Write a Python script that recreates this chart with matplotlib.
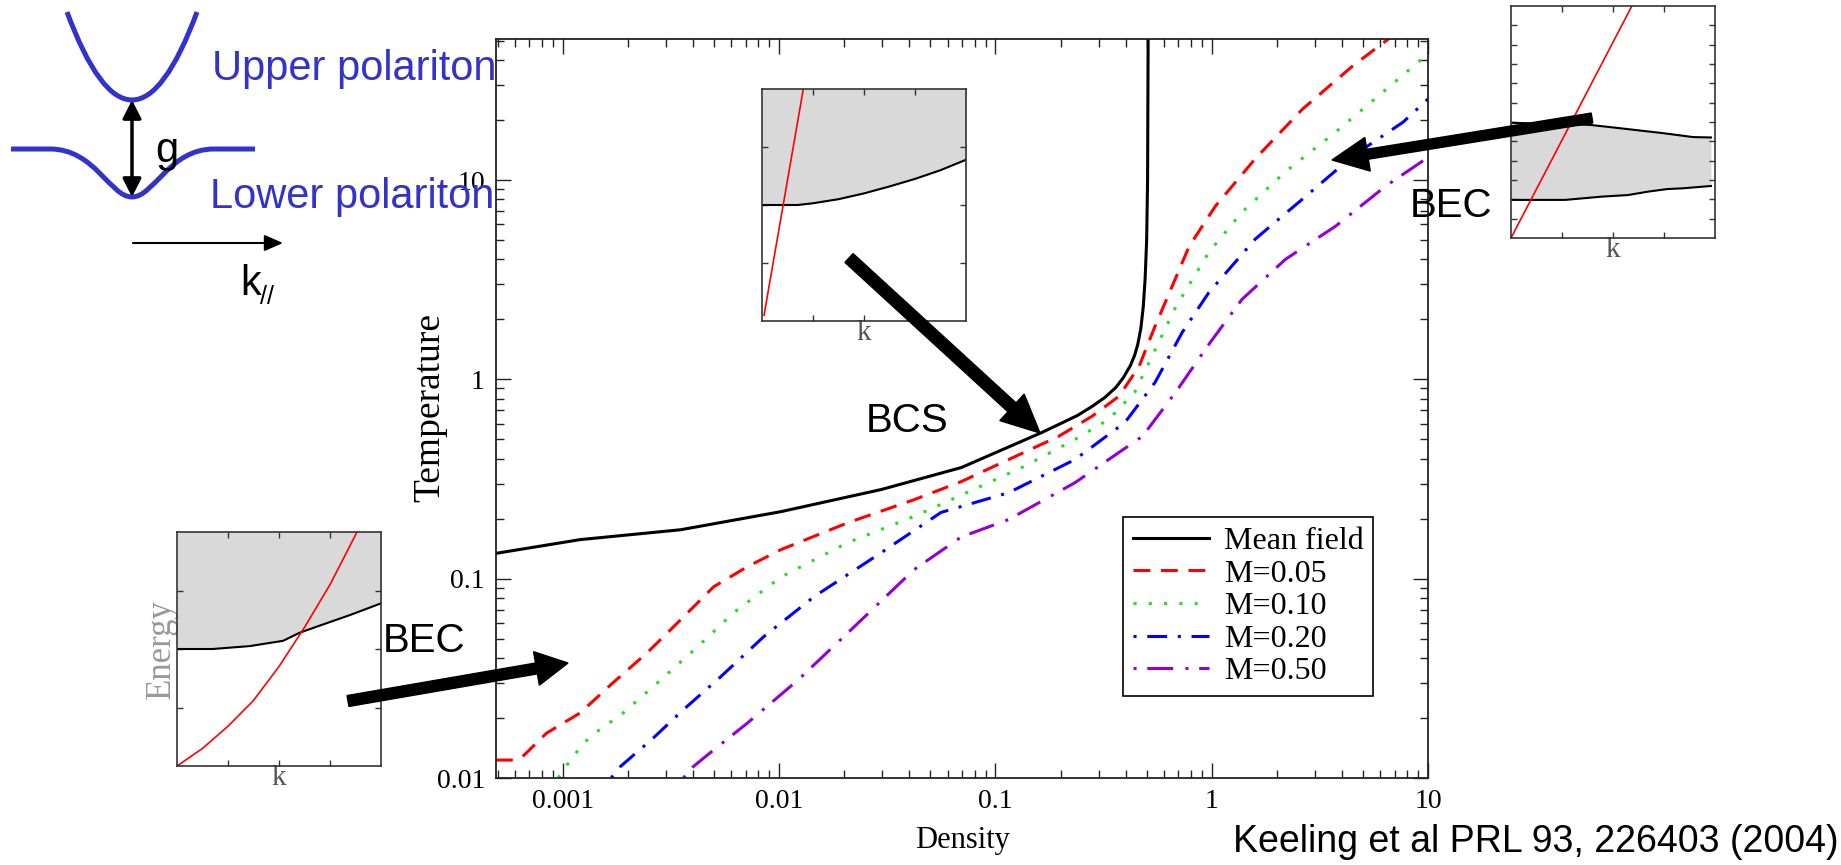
import matplotlib
matplotlib.use('Agg')
import matplotlib.pyplot as plt
from matplotlib.path import Path
from matplotlib.patches import PathPatch, FancyArrowPatch
from matplotlib.ticker import FixedLocator, FixedFormatter, LogLocator, NullFormatter

SERIF = ['Liberation Serif', 'DejaVu Serif']
SANS = ['Liberation Sans', 'DejaVu Sans']
plt.rcParams['font.family'] = SERIF

# critical temperature vs density
mf_x = [4.9e-4, 0.0012, 0.0035, 0.0102, 0.0296, 0.0695, 0.163, 0.2, 0.24, 0.279, 0.32, 0.36, 0.39, 0.42,
        0.44, 0.455, 0.47, 0.482, 0.492, 0.5, 0.505, 0.508]
mf_y = [0.134, 0.157, 0.176, 0.217, 0.28, 0.361, 0.54, 0.6, 0.66, 0.73, 0.81, 0.91, 1.02, 1.17,
        1.32, 1.5, 1.8, 2.3, 3.2, 5.0, 10.0, 55.0]

m05_x = [4.9e-4, 5.9e-4, 6.5e-4, 8.4e-4, 0.0012, 0.0017, 0.00245, 0.0035, 0.00497, 0.00714, 0.0102, 0.0208,
         0.042, 0.0695, 0.115, 0.196, 0.279, 0.372, 0.461, 0.547, 0.656, 0.787, 1.04, 1.59, 2.63, 4.49, 6.67]
m05_y = [0.0123, 0.0123, 0.0128, 0.0168, 0.0212, 0.030, 0.0425, 0.0622, 0.091, 0.115, 0.140, 0.191,
         0.249, 0.307, 0.396, 0.518, 0.652, 0.822, 1.16, 1.85, 2.93, 4.66, 7.4, 12.8, 22.7, 37.4, 51.7]

m10_x = [9.5e-4, 0.00111, 0.00133, 0.0019, 0.00273, 0.00419, 0.00615, 0.0102, 0.0208, 0.042, 0.067, 0.136,
         0.233, 0.334, 0.44, 0.53, 0.68, 0.97, 1.38, 2.19, 3.74, 6.67, 10.0]
m10_y = [0.01, 0.0128, 0.0161, 0.0212, 0.030, 0.0455, 0.0675, 0.102, 0.152, 0.205, 0.258, 0.366,
         0.499, 0.63, 0.86, 1.31, 2.3, 4.34, 6.9, 11.0, 17.4, 29.6, 43.0]

m20_x = [0.00167, 0.00184, 0.00262, 0.0036, 0.00536, 0.00848, 0.0145, 0.0296, 0.056, 0.115, 0.233, 0.397,
         0.547, 0.73, 0.97, 1.59, 2.63, 4.49, 7.66, 10.0]
m20_y = [0.01, 0.0114, 0.0159, 0.022, 0.0322, 0.0512, 0.0813, 0.135, 0.215, 0.27, 0.396, 0.608,
         0.966, 1.72, 2.73, 5.06, 8.03, 13.2, 19.5, 25.5]

m50_x = [0.0036, 0.004, 0.0048, 0.00714, 0.0122, 0.0208, 0.042, 0.0695, 0.115, 0.233, 0.478, 0.68, 0.97,
         1.38, 2.19, 3.74, 6.38, 9.8]
m50_y = [0.01, 0.0114, 0.0134, 0.0189, 0.031, 0.0536, 0.111, 0.162, 0.198, 0.303, 0.518, 0.86, 1.5,
         2.52, 4.0, 5.87, 9.33, 12.8]

x_ticks = [0.001, 0.01, 0.1, 1, 10]
x_tick_labels = ['0.001', '0.01', '0.1', '1', '10']
y_ticks = [0.01, 0.1, 1, 10]
y_tick_labels = ['0.01', '0.1', '1', '10']

# inset spectra (arbitrary units)
bcs_k = [0, 0.7, 1.0, 1.5, 2.0, 2.5, 3.0, 3.5, 4.0]
bcs_edge = [2.0, 2.0, 2.03, 2.1, 2.2, 2.32, 2.45, 2.6, 2.78]
bcs_line_k = [0.04, 0.81]
bcs_line_e = [0.1, 4.0]

hi_up_k = [0, 1.55, 2.1, 2.59, 2.96, 3.57, 3.92]
hi_up_e = [5.96, 5.85, 5.69, 5.54, 5.43, 5.22, 5.2]
hi_lo_k = [0, 1.06, 1.78, 2.29, 2.69, 3.06, 3.37, 3.92]
hi_lo_e = [1.97, 1.97, 2.14, 2.22, 2.40, 2.53, 2.57, 2.69]
hi_line_k = [0, 2.37]
hi_line_e = [0, 12]

lo_k = [0, 0.7, 1.43, 2.08, 2.41, 2.93, 3.39, 4.0]
lo_edge = [2.0, 2.0, 2.05, 2.14, 2.28, 2.44, 2.58, 2.78]
lo_line_k = [0, 0.5, 1.0, 1.5, 2.0, 2.5, 3.0, 3.53]
lo_line_e = [0, 0.3, 0.68, 1.12, 1.7, 2.37, 3.1, 4.0]

W, H = 1841, 865
fig = plt.figure(figsize=(W / 100, H / 100), dpi=100)


def frac(x0, y0, x1, y1):
    return [x0 / W, 1 - y1 / H, (x1 - x0) / W, (y1 - y0) / H]


ax = fig.add_axes(frac(496, 39, 1428, 778))
ax.set_xscale('log')
ax.set_yscale('log')

lw = 2.2
ax.plot(mf_x, mf_y, color='black', lw=lw, label='Mean field')
ax.plot(m05_x, m05_y, color='#ff0000', lw=lw, ls=(0, (5.5, 3.5)), label='M=0.05')
ax.plot(m10_x, m10_y, color='#22dd22', lw=lw, ls=(0, (1, 4)), label='M=0.10')
ax.plot(m20_x, m20_y, color='#0000ff', lw=lw, ls=(0, (1, 3.5, 6.5, 3.5)), label='M=0.20')
ax.plot(m50_x, m50_y, color='#9400d3', lw=lw, ls=(0, (1, 3.5, 8.5, 4)), label='M=0.50')

ax.set_xlim(4.9e-4, 10)
ax.set_ylim(0.01, 51)
ax.xaxis.set_major_locator(FixedLocator(x_ticks))
ax.xaxis.set_major_formatter(FixedFormatter(x_tick_labels))
ax.yaxis.set_major_locator(FixedLocator(y_ticks))
ax.yaxis.set_major_formatter(FixedFormatter(y_tick_labels))
for axis in (ax.xaxis, ax.yaxis):
    axis.set_minor_locator(LogLocator(base=10, subs=range(2, 10), numticks=20))
    axis.set_minor_formatter(NullFormatter())
ax.tick_params(which='both', direction='in', top=True, right=True, width=1.0, color='#222222',
               labelsize=20, pad=8)
ax.tick_params(which='major', length=11)
ax.tick_params(which='minor', length=6)
for s in ax.spines.values():
    s.set_color('#222222')
    s.set_linewidth(1.3)

ax.set_xlabel('Density', fontsize=22)
ax.xaxis.set_label_coords(0.5, -0.065)
ax.set_ylabel('Temperature', fontsize=27)
ax.yaxis.set_label_coords(-0.052, 0.502)

leg = ax.legend(loc='upper left', bbox_to_anchor=(0.673, 0.353), borderaxespad=0, fontsize=23,
                fancybox=False, edgecolor='black', framealpha=1, handlelength=2.4,
                labelspacing=0.1, handletextpad=0.45, borderpad=0.3)
leg.get_frame().set_linewidth(1.2)


def make_inset(box, ymax, yticks):
    a = fig.add_axes(frac(*box))
    a.set_xlim(0, 4)
    a.set_ylim(0, ymax)
    a.set_xticks([1, 2, 3])
    a.set_yticks(yticks)
    a.tick_params(direction='in', top=True, right=True, length=4, width=1, color='#333333',
                  labelbottom=False, labelleft=False)
    for s in a.spines.values():
        s.set_color('#333333')
        s.set_linewidth(1.2)
    a.set_xlabel('k', fontsize=21, color='#555555', labelpad=-1)
    return a


grey = '#d9d9d9'

a1 = make_inset((762, 89, 966, 321), 4, [1, 2, 3])
a1.fill_between(bcs_k, bcs_edge, 4, color=grey, lw=0)
a1.plot(bcs_k, bcs_edge, color='black', lw=1.5)
a1.plot(bcs_line_k, bcs_line_e, color='#ff0000', lw=1.2)

a2 = make_inset((1511, 6, 1715, 238), 12, list(range(1, 12)))
a2.fill_between(hi_lo_k, hi_lo_e, [5.96, 5.9, 5.78, 5.65, 5.52, 5.4, 5.32, 5.2], color=grey, lw=0)
a2.plot(hi_up_k, hi_up_e, color='black', lw=1.5)
a2.plot(hi_lo_k, hi_lo_e, color='black', lw=1.5)
a2.plot(hi_line_k, hi_line_e, color='#ff0000', lw=1.2)

a3 = make_inset((177, 532, 381, 766), 4, [1, 2, 3])
a3.fill_between(lo_k, lo_edge, 4, color=grey, lw=0)
a3.plot(lo_k, lo_edge, color='black', lw=1.5)
a3.plot(lo_line_k, lo_line_e, color='#ff0000', lw=1.2)
a3.set_ylabel('Energy', fontsize=25, color='#999999', labelpad=-1)

# overlay in pixel coordinates for the cartoon, arrows and notes
ov = fig.add_axes([0, 0, 1, 1])
ov.set_xlim(0, W)
ov.set_ylim(H, 0)
ov.axis('off')
ov.patch.set_alpha(0)

blue = '#3333cc'
upper = Path([(67, 12), (132, 188), (197, 12)], [Path.MOVETO, Path.CURVE3, Path.CURVE3])
lower = Path([(11, 149), (50, 149), (95, 149), (110, 197), (132, 197), (154, 197), (169, 149), (214, 149),
              (255, 149)],
             [Path.MOVETO, Path.LINETO, Path.CURVE4, Path.CURVE4, Path.CURVE4, Path.CURVE4, Path.CURVE4,
              Path.CURVE4, Path.LINETO])
ov.add_patch(PathPatch(upper, fill=False, ec=blue, lw=3.6))
ov.add_patch(PathPatch(lower, fill=False, ec=blue, lw=3.6))
ov.add_patch(FancyArrowPatch((132, 197), (132, 100), arrowstyle='<|-|>,head_length=0.55,head_width=0.28',
                             mutation_scale=20, lw=2.5, color='black', shrinkA=0, shrinkB=0))
ov.add_patch(FancyArrowPatch((133, 243), (283, 243), arrowstyle='-|>,head_length=0.8,head_width=0.35',
                             mutation_scale=14, lw=1.5, color='black', shrinkA=0, shrinkB=0))

ov.text(212, 80, 'Upper polariton', color=blue, fontsize=30, family=SANS, va='baseline')
ov.text(210, 208, 'Lower polariton', color=blue, fontsize=30, family=SANS, va='baseline')
ov.text(155, 162, 'g', color='black', fontsize=30, family=SANS, va='baseline')
ov.text(240, 295, 'k', color='black', fontsize=30, family=SANS, va='baseline')
ov.text(260, 304, '//', color='black', fontsize=18, family=SANS, va='baseline')

ov.arrow(849, 258, 1040 - 849, 433 - 258, width=12, head_width=36, head_length=38,
         length_includes_head=True, fc='black', ec='black')
ov.arrow(1592, 118, 1332 - 1592, 160 - 118, width=10, head_width=34, head_length=36,
         length_includes_head=True, fc='black', ec='black')
ov.arrow(348, 701, 568 - 348, 663 - 701, width=11, head_width=34, head_length=32,
         length_includes_head=True, fc='black', ec='black')

ov.text(866, 432, 'BCS', fontsize=29, family=SANS, va='baseline')
ov.text(1410, 217, 'BEC', fontsize=29, family=SANS, va='baseline')
ov.text(383, 652, 'BEC', fontsize=29, family=SANS, va='baseline')
ov.text(1839, 852, 'Keeling et al PRL 93, 226403 (2004)', fontsize=27, family=SANS, ha='right',
        va='baseline')

fig.savefig('out.png', dpi=100)
